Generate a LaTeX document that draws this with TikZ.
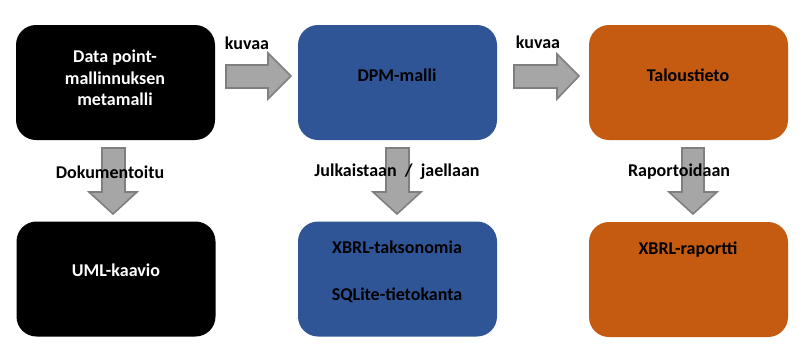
\documentclass[tikz,border=0pt]{standalone}
\usepackage{fontspec}
\setmainfont{Carlito}
\definecolor{dpmblue}{HTML}{2F5597}
\definecolor{dpmorange}{HTML}{C55A11}
\definecolor{arrowfill}{HTML}{A6A6A6}
\definecolor{arrowline}{HTML}{7F7F7F}
\tikzset{
  box/.style={rounded corners=20pt, minimum width=199pt, minimum height=115pt, inner sep=0pt},
  txt/.style={font=\bfseries\fontsize{18}{21.5}\selectfont, align=center, inner sep=0pt},
  blockarrow/.style={fill=arrowfill, draw=arrowline, line width=1.6pt, line join=miter}
}
\begin{document}
\begin{tikzpicture}[x=1pt,y=-1pt]
\useasboundingbox (0,0) rectangle (804,354);
% boxes
\node[box, fill=black] (meta) at (115.5,82.5) {};
\node[box, fill=dpmblue] (dpm) at (397.5,82.5) {};
\node[box, fill=dpmorange] (talous) at (688.5,82.5) {};
\node[box, fill=black] (uml) at (116,279) {};
\node[box, fill=dpmblue] (xbrl) at (397.5,279) {};
\node[box, fill=dpmorange] (rap) at (688.5,279.5) {};
% box texts
\node[txt, text=white] (tmeta) at (115,78) {Data point-\\mallinnuksen\\metamalli};
\node[txt] (tdpm) at (397,75) {DPM-malli};
\node[txt] (ttalous) at (688,75) {Taloustieto};
\node[txt, text=white] (tuml) at (116,270) {UML-kaavio};
\node[txt] (txbrl1) at (397,247) {XBRL-taksonomia};
\node[txt] (txbrl2) at (397,295) {SQLite-tietokanta};
\node[txt] (trap) at (688,250) {XBRL-raportti};
% block arrows
\draw[blockarrow] (226,65) -- (268,65) -- (268,53) -- (291,76) -- (268,99) -- (268,88) -- (226,88) -- cycle;
\draw[blockarrow] (514,65) -- (557,65) -- (557,54) -- (579,76) -- (557,99) -- (557,88) -- (514,88) -- cycle;
\draw[blockarrow] (102,148) -- (125,148) -- (125,192) -- (137,192) -- (113,214) -- (89,192) -- (102,192) -- cycle;
\draw[blockarrow] (386,148) -- (409,148) -- (409,192) -- (421,192) -- (397,214) -- (373,192) -- (386,192) -- cycle;
\draw[blockarrow] (682,148) -- (704,148) -- (704,192) -- (717,192) -- (693,214) -- (669,192) -- (682,192) -- cycle;
% arrow labels
\node[txt] (l1) at (247,43) {kuvaa};
\node[txt] (l2) at (538,42) {kuvaa};
\node[txt] (l3) at (110,172) {Dokumentoitu};
\node[txt] (l4) at (397,172) {Julkaistaan~~/~~jaellaan};
\node[txt] (l5) at (679,172) {Raportoidaan};
\end{tikzpicture}
\end{document}
